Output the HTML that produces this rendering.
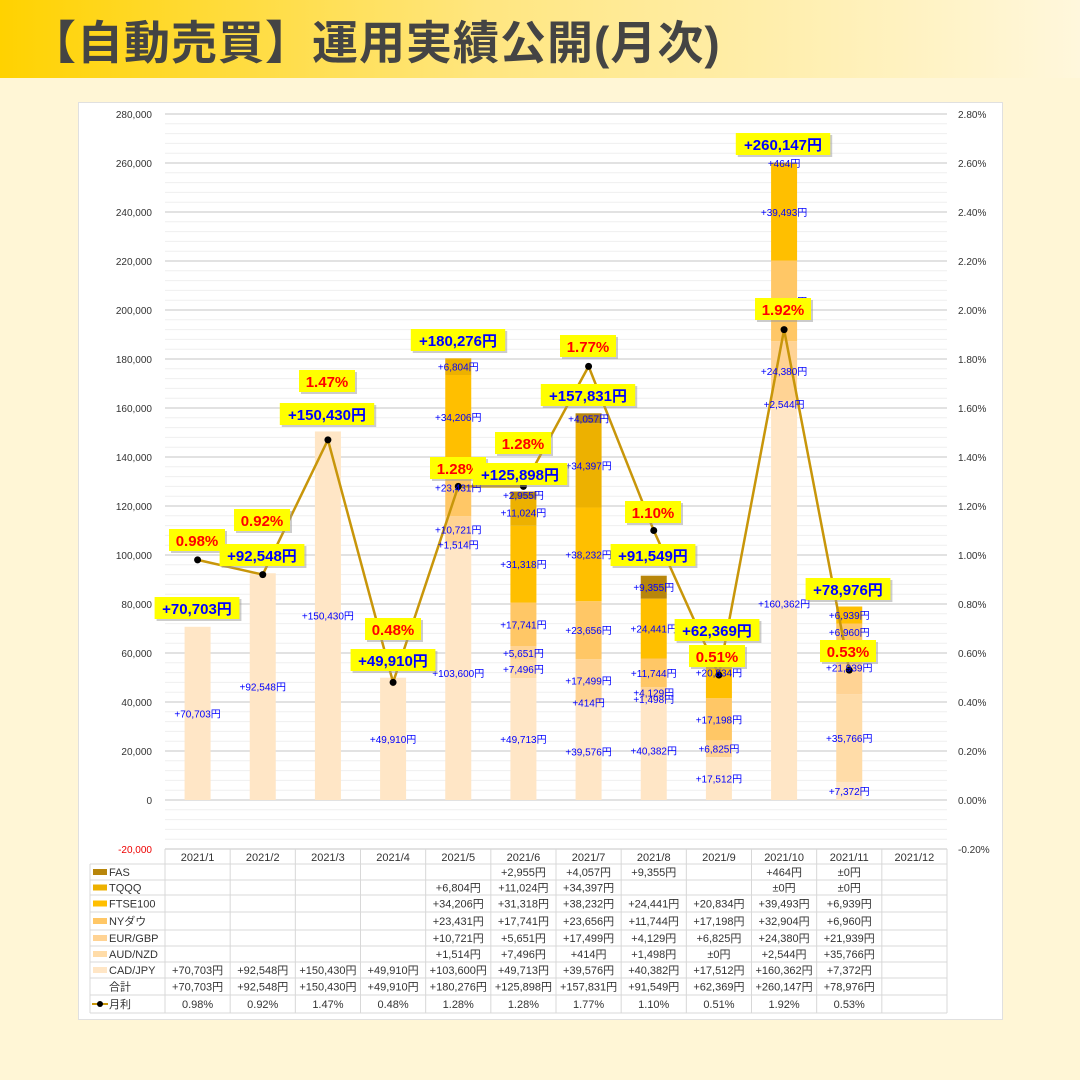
<!DOCTYPE html>
<html><head><meta charset="utf-8"><style>
body{margin:0;width:1080px;height:1080px;background:#FFF6D6;overflow:hidden;font-family:"Liberation Sans","Noto Sans CJK JP",sans-serif}
#hdr{position:absolute;left:0;top:0;width:1080px;height:78px;background:linear-gradient(90deg,#FFD200 0%,#FFE680 45%,#FFF7DC 100%)}
#hdr div{position:absolute;left:30px;top:7px;font-size:46px;font-weight:bold;color:#444;letter-spacing:1px;white-space:nowrap}
#panel{position:absolute;left:78px;top:102px;width:923px;height:916px;background:#fff;border:1px solid #e0e0e0}
svg{position:absolute;left:0;top:0}
</style></head><body>
<div id="hdr"><div>【自動売買】運用実績公開(月次)</div></div>
<div id="panel"></div>
<svg id="s" width="1080" height="1080" xmlns="http://www.w3.org/2000/svg" font-family="Liberation Sans, Noto Sans CJK JP, sans-serif"></svg>
<script>
var s=document.getElementById('s'),h='';
function Y(v){return 800-v*49/20000}
var L=165,R=947,cw=(R-L)/12;
function cx(i){return L+cw*(i+0.5)}
for(var v=-20000;v<=280000;v+=4000){var y=Y(v);var maj=(v%20000==0);
h+='<line x1="'+L+'" x2="'+R+'" y1="'+y+'" y2="'+y+'" stroke="'+(maj?'#d8d8d8':'#efefef')+'" stroke-width="'+(maj?1.5:1)+'"/>';
if(maj){h+='<text x="152" y="'+(y+4)+'" font-size="10" text-anchor="end" fill="'+(v<0?'#e00':'#333')+'">'+v.toLocaleString('en-US')+'</text>';
h+='<text x="958" y="'+(y+4)+'" font-size="10" fill="#333">'+(v/100000).toFixed(2)+'%</text>';}}
var cols=['#FFE6C6','#FFDCA8','#FFD394','#FFC766','#FFBF00','#EDB100','#B8860B'];
var D=[[70703],[92548],[150430],[49910],[103600,1514,10721,23431,34206,6804],
[49713,7496,5651,17741,31318,11024,2955],[39576,414,17499,23656,38232,34397,4057],
[40382,1498,4129,11744,24441,0,9355],[17512,0,6825,17198,20834,0,0],
[160362,2544,24380,32904,39493,0,464],[7372,35766,21939,6960,6939,0,0]];
var tot=[70703,92548,150430,49910,180276,125898,157831,91549,62369,260147,78976];
var pct=[0.98,0.92,1.47,0.48,1.28,1.28,1.77,1.10,0.51,1.92,0.53];
var tl=[[197,610],[262,557],[327,416],[393,662],[458,342],[520,476],[588,397],[653,557],[717,632],[783,146],[848,591]];
var pl=[[197,542],[262,522],[327,383],[393,631],[458,470],[523,445],[588,348],[653,514],[717,658],[783,311],[848,653]];
var sm='';
D.forEach(function(d,i){var acc=0,x=cx(i);d.forEach(function(v,k){if(!v){return;}var y0=Y(acc),y1=Y(acc+v);
h+='<rect x="'+(x-13)+'" y="'+y1+'" width="26" height="'+(y0-y1)+'" fill="'+cols[k]+'"/>';
sm+='<text x="'+x+'" y="'+((y0+y1)/2+4)+'" font-size="10" text-anchor="middle" fill="#00f">+'+v.toLocaleString('en-US')+'円</text>';acc+=v;});});
var pts=pct.map(function(p,i){return cx(i)+','+Y(p*100000)}).join(' ');
h+='<polyline points="'+pts+'" fill="none" stroke="#C8960A" stroke-width="2.5"/>';
pct.forEach(function(p,i){h+='<circle cx="'+cx(i)+'" cy="'+Y(p*100000)+'" r="3.5" fill="#000"/>'});
h+=sm;
function box(x,y,t,c){var w=t.length*9.6+8;h+='<rect x="'+(x-w/2+2)+'" y="'+(y-11)+'" width="'+w+'" height="22" fill="#999" opacity=".5"/><rect x="'+(x-w/2)+'" y="'+(y-13)+'" width="'+w+'" height="22" fill="#FFFF00"/><text x="'+x+'" y="'+(y+4)+'" font-size="15" font-weight="bold" text-anchor="middle" fill="'+c+'">'+t+'</text>';}
pct.forEach(function(p,i){box(pl[i][0],pl[i][1],p.toFixed(2)+'%','#f00')});
tot.forEach(function(t,i){box(tl[i][0],tl[i][1],'+'+t.toLocaleString('en-US')+'円','#00f')});
var rb=[849,864,880,895,912,930,946,962,978,995,1013];
for(var r=0;r<rb.length;r++){h+='<line x1="'+(r==0?L:90)+'" x2="'+R+'" y1="'+rb[r]+'" y2="'+rb[r]+'" stroke="#d8d8d8"/>';}
h+='<line x1="90" x2="90" y1="864" y2="1013" stroke="#d8d8d8"/>';
for(var c=0;c<=12;c++){var x=L+cw*c;h+='<line x1="'+x+'" x2="'+x+'" y1="849" y2="1013" stroke="#d8d8d8"/>';}
for(var c=0;c<12;c++)h+='<text x="'+cx(c)+'" y="'+861+'" font-size="11" text-anchor="middle" fill="#333">2021/'+(c+1)+'</text>';
var rowsN=['FAS','TQQQ','FTSE100','NYダウ','EUR/GBP','AUD/NZD','CAD/JPY'];
for(var r=0;r<7;r++){var yc=(rb[r+1]+rb[r+2])/2;var k=6-r;
h+='<rect x="93" y="'+(yc-3)+'" width="14" height="6" fill="'+cols[k]+'"/><text x="109" y="'+(yc+4)+'" font-size="11" fill="#333">'+rowsN[r]+'</text>';
D.forEach(function(d,i){var v=d[k];var show=(v!==undefined);if(i==8&&k>=5)show=false;if(i==7&&k==5)show=false;
if(show)h+='<text x="'+cx(i)+'" y="'+(yc+4)+'" font-size="11" text-anchor="middle" fill="#333">'+(v?'+'+v.toLocaleString('en-US')+'円':'±0円')+'</text>';});}
var y8=(rb[8]+rb[9])/2,y9=(rb[9]+rb[10])/2;
h+='<text x="109" y="'+(y8+4)+'" font-size="11" fill="#333">合計</text>';
h+='<line x1="92" x2="108" y1="'+y9+'" y2="'+y9+'" stroke="#C8960A" stroke-width="2"/><circle cx="100" cy="'+y9+'" r="3" fill="#000"/><text x="109" y="'+(y9+4)+'" font-size="11" fill="#333">月利</text>';
tot.forEach(function(t,i){h+='<text x="'+cx(i)+'" y="'+(y8+4)+'" font-size="11" text-anchor="middle" fill="#333">+'+t.toLocaleString('en-US')+'円</text><text x="'+cx(i)+'" y="'+(y9+4)+'" font-size="11" text-anchor="middle" fill="#333">'+pct[i].toFixed(2)+'%</text>'});
s.innerHTML=h;
</script>
</body></html>
